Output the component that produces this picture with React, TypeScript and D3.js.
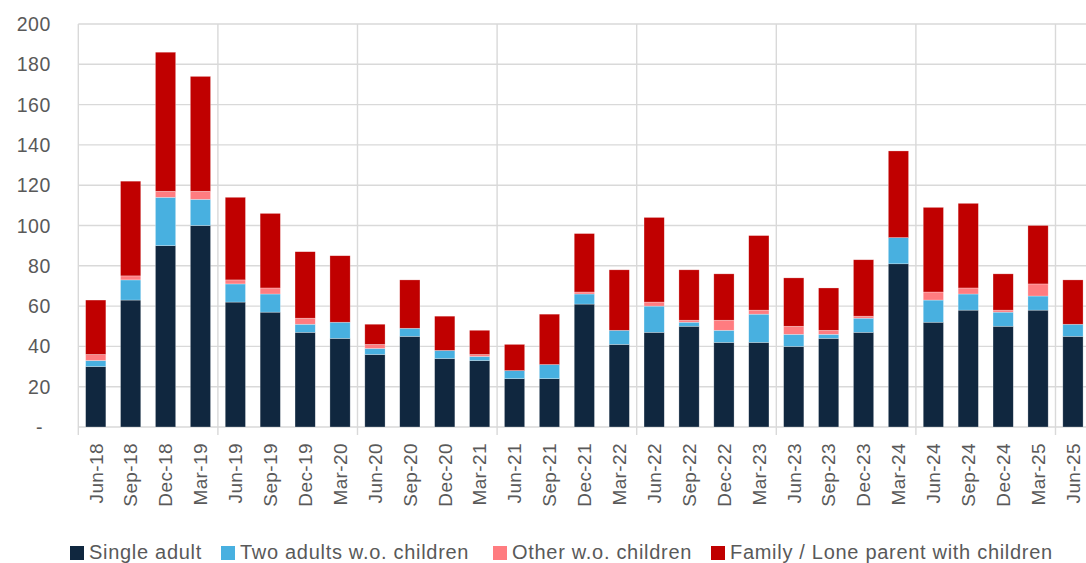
import * as d3 from "d3";
import React from "react";

const categories = [
  "Jun-18", "Sep-18", "Dec-18", "Mar-19", "Jun-19", "Sep-19", "Dec-19", "Mar-20",
  "Jun-20", "Sep-20", "Dec-20", "Mar-21", "Jun-21", "Sep-21", "Dec-21", "Mar-22",
  "Jun-22", "Sep-22", "Dec-22", "Mar-23", "Jun-23", "Sep-23", "Dec-23", "Mar-24",
  "Jun-24", "Sep-24", "Dec-24", "Mar-25", "Jun-25",
];

const singleAdult = [30, 63, 90, 100, 62, 57, 47, 44, 36, 45, 34, 33, 24, 24, 61, 41, 47, 50, 42, 42, 40, 44, 47, 81, 52, 58, 50, 58, 45];
const twoAdults = [3, 10, 24, 13, 9, 9, 4, 8, 3, 4, 4, 2, 4, 7, 5, 7, 13, 2, 6, 14, 6, 2, 7, 13, 11, 8, 7, 7, 6];
const otherNoChildren = [3, 2, 3, 4, 2, 3, 3, 0, 2, 0, 0, 1, 0, 0, 1, 0, 2, 1, 5, 2, 4, 2, 1, 0, 4, 3, 1, 6, 0];
const family = [27, 47, 69, 57, 41, 37, 33, 33, 10, 24, 17, 12, 13, 25, 29, 30, 42, 25, 23, 37, 24, 21, 28, 43, 42, 42, 18, 29, 22];

const seriesNames = ["Single adult", "Two adults w.o. children", "Other w.o. children", "Family / Lone parent with children"];
const seriesColors = ["#10273f", "#48b0e0", "#ff7c80", "#c00000"];
const yTicks = [0, 20, 40, 60, 80, 100, 120, 140, 160, 180, 200];

// legend square x positions
const legendX = [70, 221, 493, 711];

export default function App() {
  const width = 1086;
  const height = 563;
  const left = 78.3;
  const step = 34.9;
  const top = 24;
  const bottom = 427;

  const rows = categories.map((c, i) => ({
    cat: c,
    s0: singleAdult[i],
    s1: twoAdults[i],
    s2: otherNoChildren[i],
    s3: family[i],
  }));
  const stacked = d3.stack().keys(["s0", "s1", "s2", "s3"])(rows as any);

  const x = d3
    .scaleBand()
    .domain(categories)
    .range([left, left + step * categories.length])
    .paddingInner(0.42)
    .paddingOuter(0.21);
  const y = d3.scaleLinear().domain([0, 200]).range([bottom, top]);

  const grid = "#d9d9d9";
  const textCol = "#595959";
  const font = "'Liberation Sans', Arial, sans-serif";

  // vertical separators every 4 quarters
  const seps = d3.range(0, categories.length + 1, 4).map((k) => left + k * step);

  return (
    <div>
      <style>{`body{margin:0}`}</style>
      <svg width={width} height={height} style={{ display: "block" }} fontFamily={font}>
        {yTicks.map((t) => (
          <line key={"g" + t} x1={left} x2={width} y1={y(t)} y2={y(t)} stroke={grid} strokeWidth={1.4} />
        ))}
        {seps.map((sx, i) => (
          <line key={"v" + i} x1={sx} x2={sx} y1={top} y2={bottom + 8} stroke={grid} strokeWidth={1.4} />
        ))}
        {yTicks.map((t) => (
          <text
            key={"yl" + t}
            x={t === 0 ? 43 : 51}
            y={y(t)}
            dy="0.36em"
            textAnchor="end"
            fontSize={19.5}
            letterSpacing={0.6}
            fill={textCol}
          >
            {t === 0 ? "-" : t}
          </text>
        ))}
        {stacked.map((layer, si) => (
          <g key={"s" + si} fill={seriesColors[si]}>
            {layer.map((d, i) =>
              d[1] - d[0] > 0 ? (
                <rect
                  key={i}
                  x={x(categories[i])}
                  width={x.bandwidth()}
                  y={y(d[1])}
                  height={y(d[0]) - y(d[1])}
                  stroke="#ffffff"
                  strokeOpacity={0.45}
                  strokeWidth={0.6}
                />
              ) : null
            )}
          </g>
        ))}
        {categories.map((c) => (
          <text
            key={"xl" + c}
            transform={`translate(${(x(c) as number) + x.bandwidth() / 2},443) rotate(-90)`}
            dy="0.36em"
            textAnchor="end"
            fontSize={19}
            letterSpacing={0.4}
            fill={textCol}
          >
            {c}
          </text>
        ))}
        {seriesNames.map((n, i) => (
          <g key={"lg" + i}>
            <rect x={legendX[i]} y={546} width={14} height={14} fill={seriesColors[i]} />
            <text x={legendX[i] + 19} y={559} fontSize={20} letterSpacing={0.7} fill={textCol}>
              {n}
            </text>
          </g>
        ))}
      </svg>
    </div>
  );
}
